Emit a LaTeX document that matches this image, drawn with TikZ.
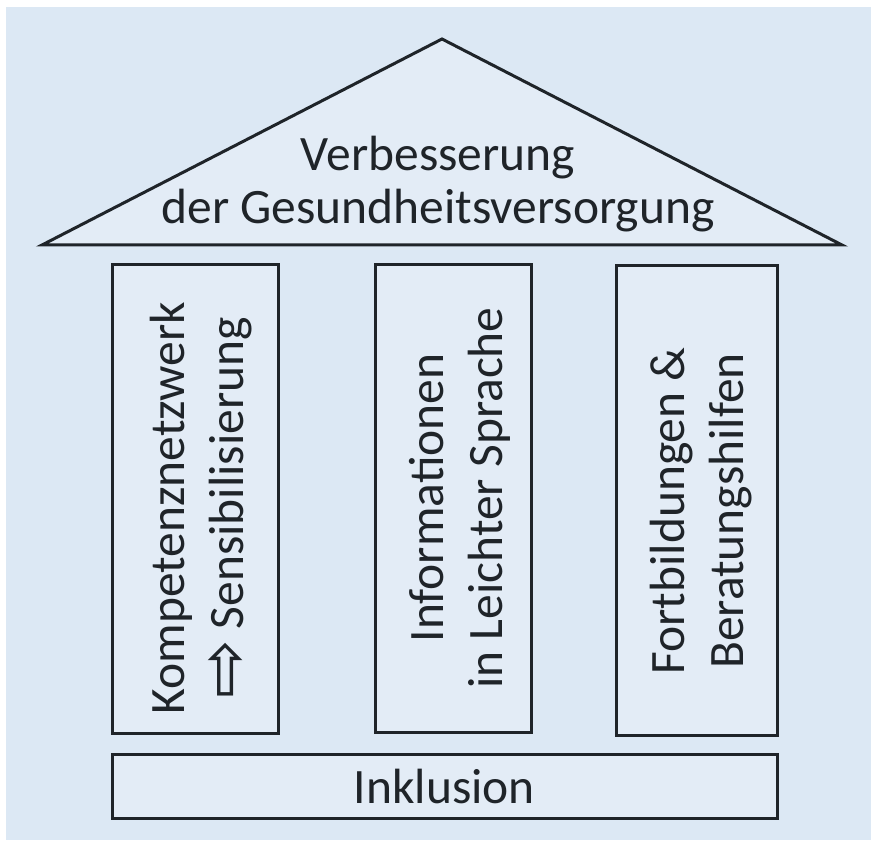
\documentclass[tikz,border=0pt]{standalone}
\usepackage{fontspec}
\setmainfont{Carlito}
\newfontfamily\arrowfont{DejaVu Sans}
\definecolor{bgblue}{HTML}{DCE8F4}
\definecolor{boxblue}{HTML}{E3ECF6}
\definecolor{inkline}{HTML}{1F2429}
\tikzset{
  outline/.style={draw=inkline, line width=3pt, fill=boxblue},
  pillarbox/.style={outline, rectangle, inner sep=0pt},
  bigtext/.style={inner sep=0pt, align=center, text=inkline,
    font=\fontsize{49.5}{59}\selectfont},
  uptext/.style={bigtext, rotate=90}
}
\begin{document}
\begin{tikzpicture}[x=1pt,y=-1pt]
\useasboundingbox (0,0) rectangle (871,842);
\fill[white] (0,0) rectangle (871,842);
\fill[bgblue] (6,7) rectangle (871,840);
% roof
\coordinate (roofL) at (42,245);
\coordinate (roofR) at (842,245);
\coordinate (roofA) at (442,39);
\draw[outline, line join=miter] (roofL) -- (roofA) -- (roofR) -- cycle;
\node[bigtext, font=\fontsize{49.5}{53}\selectfont] (rooftext) at (438,184)
  {Verbesserung\\der Gesundheitsversorgung};
% pillars
\node[pillarbox, minimum width=166pt, minimum height=468pt] (p1) at (195,499) {};
\node[pillarbox, minimum width=156pt, minimum height=467pt] (p2) at (453,498.5) {};
\node[pillarbox, minimum width=161pt, minimum height=470pt] (p3) at (696.5,500.5) {};
\node[uptext] (t1) at (201,508)
  {Kompetenznetzwerk\\\smash{\raisebox{-4pt}{\arrowfont\fontsize{70}{59}\selectfont ⇨}} Sensibilisierung};
\node[uptext] (t2) at (459.5,498) {Informationen\\in Leichter Sprache};
\node[uptext] (t3) at (701,511) {Fortbildungen \&\\Beratungshilfen};
% base
\node[pillarbox, minimum width=665pt, minimum height=64pt] (base) at (444.5,786) {};
\node[bigtext] (basetext) at (444.5,786.5) {Inklusion};
\end{tikzpicture}
\end{document}
